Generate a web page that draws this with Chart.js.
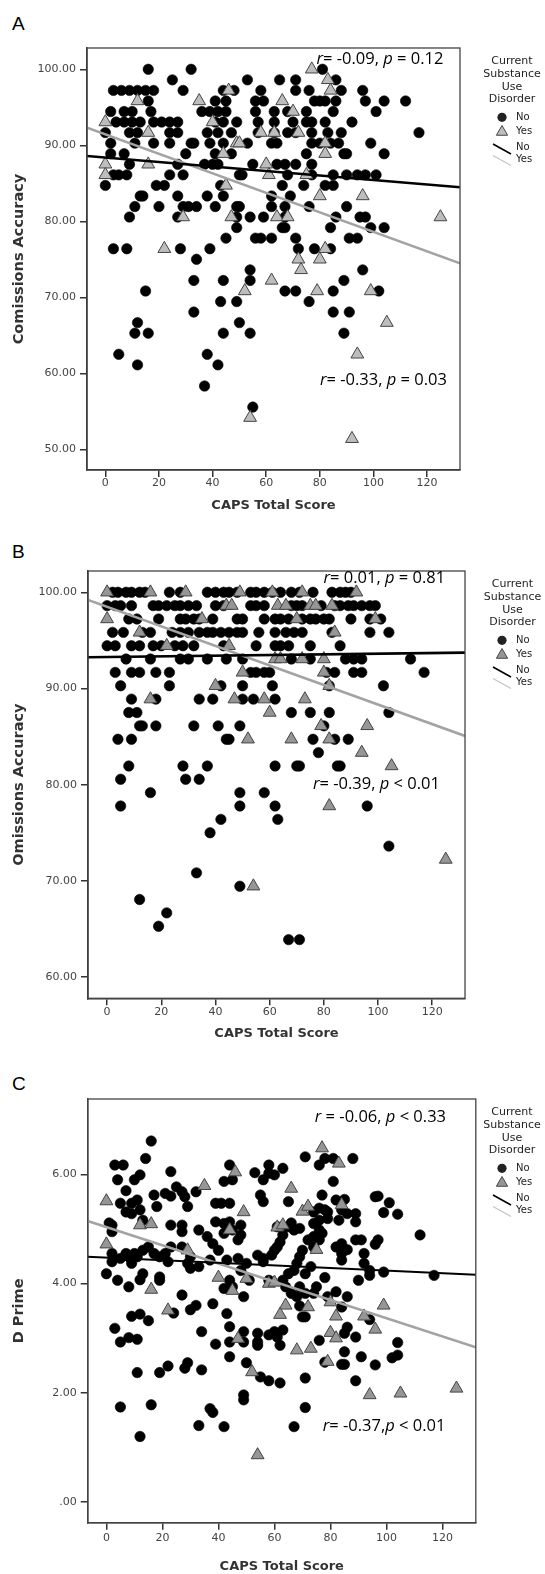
<!DOCTYPE html>
<html>
<head>
<meta charset="utf-8">
<script src="https://cdn.jsdelivr.net/npm/chart.js@4.4.0/dist/chart.umd.min.js"></script>
<style>
body { margin: 0; background: #fff; width: 545px; height: 1574px; position: relative; overflow: hidden; }
canvas { position: absolute; left: 0; }
.tag { position: absolute; left: 12px; font: 19px/19px "Liberation Sans", Arial, sans-serif; color: #000; }
</style>
</head>
<body>
<div class="tag" style="top:14px">A</div>
<div class="tag" style="top:542px">B</div>
<div class="tag" style="top:1074px">C</div>
<canvas id="chartA" width="545" height="525" style="top:0"></canvas>
<canvas id="chartB" width="545" height="520" style="top:525px"></canvas>
<canvas id="chartC" width="545" height="529" style="top:1045px"></canvas>
<script>
const capsTicks = [0, 20, 40, 60, 80, 100, 120];
const commTicks = [50, 60, 70, 80, 90, 100];
const omisTicks = [60, 70, 80, 90, 100];
const dprimeTicks = [0, 2, 4, 6];
const groupLabels = ["No", "Yes"];
const legendTitle = ["Current", "Substance", "Use", "Disorder"];

// A - [CAPS total, commissions accuracy]
const commNo = [
  [16,100],[32,100],[81,100],
  [25,98.61],[53,98.61],[65,98.61],[71,98.61],[86,98.61],
  [3,97.22],[6,97.22],[9,97.22],[12,97.22],[15,97.22],[18,97.22],[29,97.22],[44,97.22],[48,97.22],[58,97.22],[71,97.22],[76,97.22],[88,97.22],[96,97.22],
  [16,95.83],[41,95.83],[45,95.83],[56,95.83],[59,95.83],[78,95.83],[80,95.83],[82,95.83],[86,95.83],[97,95.83],[104,95.83],[112,95.83],
  [2,94.44],[7,94.44],[10,94.44],[17,94.44],[36,94.44],[39,94.44],[42,94.44],[45,94.44],[56,94.44],[63,94.44],[68,94.44],[75,94.44],[85,94.44],[101,94.44],
  [4,93.06],[7,93.06],[10,93.06],[13,93.06],[18,93.06],[21,93.06],[24,93.06],[27,93.06],[41,93.06],[44,93.06],[49,93.06],[57,93.06],[63,93.06],[70,93.06],[75,93.06],[77,93.06],[82,93.06],[92,93.06],
  [0,91.67],[9,91.67],[12,91.67],[24,91.67],[27,91.67],[38,91.67],[42,91.67],[47,91.67],[57,91.67],[63,91.67],[68,91.67],[71,91.67],[77,91.67],[83,91.67],[88,91.67],[117,91.67],
  [2,90.28],[11,90.28],[18,90.28],[24,90.28],[32,90.28],[33,90.28],[39,90.28],[44,90.28],[53,90.28],[62,90.28],[64,90.28],[77,90.28],[80,90.28],[84,90.28],[87,90.28],[99,90.28],
  [2,88.89],[7,88.89],[30,88.89],[41,88.89],[47,88.89],[75,88.89],[89,88.89],[90,88.89],[104,88.89],
  [9,87.5],[27,87.5],[37,87.5],[40,87.5],[42,87.5],[55,87.5],[64,87.5],[67,87.5],[71,87.5],[77,87.5],
  [3,86.11],[5,86.11],[8,86.11],[24,86.11],[29,86.11],[50,86.11],[51,86.11],[68,86.11],[77,86.11],[85,86.11],[90,86.11],[94,86.11],[97,86.11],[101,86.11],
  [0,84.72],[19,84.72],[22,84.72],[43,84.72],[66,84.72],[74,84.72],[82,84.72],[85,84.72],
  [13,83.33],[14,83.33],[27,83.33],[38,83.33],[44,83.33],[62,83.33],[69,83.33],
  [11,81.94],[20,81.94],[29,81.94],[31,81.94],[34,81.94],[41,81.94],[49,81.94],[50,81.94],[62,81.94],[67,81.94],[76,81.94],[90,81.94],
  [9,80.56],[27,80.56],[49,80.56],[54,80.56],[59,80.56],[67,80.56],[86,80.56],[95,80.56],[97,80.56],
  [49,79.17],[66,79.17],[67,79.17],[84,79.17],[99,79.17],[104,79.17],
  [45,77.78],[56,77.78],[58,77.78],[62,77.78],[71,77.78],[91,77.78],[94,77.78],
  [3,76.39],[8,76.39],[28,76.39],[39,76.39],[72,76.39],[78,76.39],[84,76.39],
  [34,75],[54,73.61],[96,73.61],
  [33,72.22],[44,72.22],[54,72.22],[89,72.22],
  [15,70.83],[67,70.83],[71,70.83],[85,70.83],[102,70.83],
  [43,69.44],[49,69.44],[76,69.44],
  [33,68.06],[85,68.06],[91,68.06],
  [12,66.67],[50,66.67],
  [11,65.28],[16,65.28],[44,65.28],[54,65.28],[89,65.28],
  [5,62.5],[38,62.5],[12,61.11],[42,61.11],[37,58.33],[55,55.56]
];
const commYes = [
  [77,100],[83,98.61],[46,97.22],[84,97.22],[12,95.83],[35,95.83],[66,95.83],[70,94.44],
  [0,93.06],[40,93.06],[16,91.67],[58,91.67],[63,91.67],[72,91.67],[49,90.28],[50,90.28],[82,90.28],
  [44,88.89],[82,88.89],[0,87.5],[16,87.5],[60,87.5],[0,86.11],[61,86.11],[75,86.11],[45,84.72],
  [80,83.33],[96,83.33],[29,80.56],[47,80.56],[64,80.56],[68,80.56],[125,80.56],[22,76.39],[82,76.39],
  [72,75],[80,75],[73,73.61],[62,72.22],[52,70.83],[79,70.83],[99,70.83],[105,66.67],[94,62.5],
  [54,54.17],[92,51.39]
];
const commFitNo = [[-6.85, 88.59], [132.3, 84.47]];
const commFitYes = [[-6.85, 92.32], [132.3, 74.47]];

// B - [CAPS total, omissions accuracy]
const omisNo = [
  [2,100],[4,100],[7,100],[9,100],[12,100],[14,100],[23,100],[27,100],[37,100],[40,100],[43,100],[45,100],[48,100],[53,100],[55,100],[58,100],[61,100],[64,100],[68,100],[71,100],[76,100],[83,100],[86,100],[88,100],[90,100],
  [0,98.61],[3,98.61],[5,98.61],[9,98.61],[17,98.61],[19,98.61],[22,98.61],[25,98.61],[27,98.61],[30,98.61],[33,98.61],[40,98.61],[43,98.61],[53,98.61],[55,98.61],[58,98.61],[68,98.61],[70,98.61],[72,98.61],[79,98.61],[84,98.61],[86,98.61],[89,98.61],[91,98.61],[94,98.61],[97,98.61],[99,98.61],
  [8,97.22],[11,97.22],[19,97.22],[27,97.22],[29,97.22],[32,97.22],[34,97.22],[39,97.22],[48,97.22],[50,97.22],[58,97.22],[62,97.22],[64,97.22],[67,97.22],[72,97.22],[75,97.22],[77,97.22],[80,97.22],[82,97.22],[90,97.22],[97,97.22],[101,97.22],
  [2,95.83],[6,95.83],[13,95.83],[16,95.83],[24,95.83],[27,95.83],[30,95.83],[34,95.83],[37,95.83],[39,95.83],[42,95.83],[45,95.83],[48,95.83],[50,95.83],[56,95.83],[62,95.83],[66,95.83],[69,95.83],[72,95.83],[83,95.83],[97,95.83],[104,95.83],
  [0,94.44],[3,94.44],[9,94.44],[12,94.44],[17,94.44],[20,94.44],[25,94.44],[28,94.44],[32,94.44],[43,94.44],[55,94.44],[62,94.44],[64,94.44],[67,94.44],[75,94.44],[86,94.44],
  [7,93.06],[16,93.06],[27,93.06],[30,93.06],[37,93.06],[44,93.06],[50,93.06],[68,93.06],[75,93.06],[88,93.06],[91,93.06],[94,93.06],[112,93.06],
  [3,91.67],[9,91.67],[12,91.67],[18,91.67],[23,91.67],[53,91.67],[55,91.67],[58,91.67],[60,91.67],[81,91.67],[84,91.67],[91,91.67],[94,91.67],[117,91.67],
  [5,90.28],[23,90.28],[42,90.28],[50,90.28],[61,90.28],[82,90.28],[102,90.28],
  [9,88.89],[18,88.89],[34,88.89],[39,88.89],[50,88.89],[54,88.89],[62,88.89],
  [8,87.5],[11,87.5],[68,87.5],[75,87.5],[82,87.5],[104,87.5],
  [12,86.11],[13,86.11],[18,86.11],[32,86.11],[41,86.11],[49,86.11],[80,86.11],
  [4,84.72],[9,84.72],[44,84.72],[45,84.72],[76,84.72],[84,84.72],[89,84.72],
  [78,83.33],
  [8,81.94],[28,81.94],[37,81.94],[62,81.94],[70,81.94],[71,81.94],[85,81.94],[86,81.94],
  [5,80.56],[29,80.56],[34,80.56],
  [16,79.17],[49,79.17],[58,79.17],
  [5,77.78],[49,77.78],[62,77.78],[96,77.78],
  [42,76.39],[63,76.39],[38,75],[104,73.61],[33,70.83],[49,69.44],[12,68.06],[22,66.67],[19,65.28],[67,63.89],[71,63.89]
];
const omisYes = [
  [0,100],[16,100],[29,100],[49,100],[61,100],[72,100],[92,100],
  [44,98.61],[46,98.61],[63,98.61],[66,98.61],[75,98.61],[77,98.61],[83,98.61],
  [0,97.22],[35,97.22],[70,97.22],[99,97.22],[12,95.83],[84,95.83],[22,94.44],[45,94.44],
  [62,93.06],[64,93.06],[72,93.06],[80,93.06],[50,91.67],[80,91.67],[40,90.28],[82,90.28],
  [16,88.89],[47,88.89],[58,88.89],[73,88.89],[60,87.5],[79,86.11],[96,86.11],
  [52,84.72],[68,84.72],[82,84.72],[94,83.33],[105,81.94],[82,77.78],[125,72.22],[54,69.44]
];
const omisFitNo = [[-7.05, 93.24], [132.1, 93.72]];
const omisFitYes = [[-7.05, 99.2], [132.1, 85.06]];

// C - [CAPS total, d prime]
const dprNo = [
  [16,6.61],[14,6.29],[3,6.17],[6,6.17],[4,5.9],[10,5.9],[12,5.99],[7,5.7],[1,5.11],[2,5.07],[2,4.95],[5,5.47],[9,5.47],[11,5.53],[7,5.31],[9,5.28],[12,5.35],[13,5.16],
  [0,4.18],[2,4.55],[2,4.4],[4,4.06],[5,4.46],[7,4.55],[8,4.49],[10,4.55],[11,4.49],[13,4.61],[9,4.37],[8,3.94],[12,4.07],[13,4.18],[15,4.67],
  [17,5.62],[18,5.41],[19,4.12],[17,4.55],[19,4.49],[19,4.06],[21,5.65],[23,6.05],[23,5.6],[25,5.77],[27,5.68],[28,5.59],[29,5.41],[23,5.07],[27,5.07],[27,4.95],
  [23,4.67],[27,4.67],[30,4.49],[29,4.37],[30,4.28],[27,3.79],[21,4.55],[22,4.4],[32,5.68],[33,4.98],[36,4.86],[38,4.73],[37,4.43],[33,4.31],
  [39,5.47],[41,5.47],[42,5.87],[45,5.9],[44,6.17],[44,5.47],[39,5.13],[42,5.1],[44,5.13],[42,4.92],[45,4.98],[48,5.07],[48,4.89],[47,4.8],[40,4.61],[43,4.43],
  [47,4.46],[50,4.37],[48,4.24],[51,4.06],[44,4.06],[42,3.91],[45,3.94],[49,3.76],[53,6.03],[56,5.9],[58,6.02],[58,6.17],[60,5.99],[63,6.11],[55,5.62],[56,5.5],[65,5.5],
  [54,4.52],[56,4.46],[59,4.52],[60,4.61],[61,4.67],[62,4.76],[63,4.89],[61,5.04],[65,5.04],[67,4.98],[69,5.01],[66,5.11],[56,4.4],[58,4.06],[63,4.06],[64,3.94],
  [65,4.18],[67,4.24],[68,4.37],[66,3.82],[68,3.76],[71,6.32],[76,6.17],[78,6.29],[81,5.87],[77,5.62],[76,5.38],[74,5.31],[78,5.35],[79,5.31],[76,5.16],[74,5.1],
  [79,5.19],[76,4.98],[74,4.86],[72,4.8],[76,4.8],[77,4.92],[74,4.67],[70,4.61],[69,4.49],[71,4.18],[73,4.31],[78,4.11],[75,3.94],[74,3.82],[69,3.94],[71,3.82],[79,3.76],
  [88,6.29],[81,6.29],[82,5.53],[85,5.54],[83,5.16],[84,5.35],[86,5.28],[89,5.28],[89,5.13],[82,4.67],[84,4.73],[84,4.55],[84,4.43],[86,4.62],[89,4.8],[91,4.8],
  [90,4.06],[82,3.85],[86,3.76],[92,4.55],[92,4.37],[94,4.24],[94,4.15],[96,4.72],[97,4.8],[96,5.59],[97,5.6],[99,5.3],[101,5.48],[104,5.27],[99,4.21],[112,4.89],[117,4.15],
  [3,3.18],[5,2.93],[8,3.01],[9,3.4],[11,2.98],[12,3.44],[15,3.32],[11,2.37],[19,2.37],[22,2.49],[5,1.74],[16,1.78],[12,1.2],[24,3.46],[30,3.52],[32,3.6],[34,3.12],
  [34,2.42],[38,3.63],[39,2.89],[43,3.45],[44,3.21],[44,2.93],[44,2.66],[28,2.45],[29,2.55],[37,1.71],[38,1.64],[33,1.4],[42,1.38],[49,3.12],[49,2.93],[49,1.96],
  [49,1.87],[50,2.55],[54,3.09],[54,2.93],[54,2.87],[55,2.29],[58,2.22],[58,3.06],[60,3.12],[61,3.02],[63,3.15],[62,2.87],[62,2.18],[69,3.59],[70,3.39],[71,3.39],
  [71,2.27],[71,1.73],[67,1.38],[76,2.96],[78,2.56],[84,3.57],[85,3.09],[86,3.2],[85,2.75],[84,2.52],[85,2.52],[89,3.02],[89,2.22],[91,2.66],[94,3.34],[96,2.51],
  [102,2.64],[104,2.69],[104,2.92]
];
const dprYes = [
  [0,5.51],[0,4.72],[12,5.07],[16,5.09],[16,3.89],[35,5.79],[29,4.61],[46,6.04],[49,5.31],[44,4.98],[40,4.11],[45,3.87],[50,4.09],[66,5.74],[61,5.03],[63,5.07],
  [58,4.0],[60,4.02],[77,6.48],[83,6.2],[70,5.32],[72,5.41],[75,4.62],[84,5.44],[22,3.51],[64,3.6],[62,3.43],[72,3.57],[82,3.4],[99,3.6],[92,3.4],[80,3.1],
  [82,3.0],[96,3.16],[47,2.99],[68,2.78],[73,2.81],[79,2.57],[52,2.38],[94,1.96],[105,1.99],[125,2.08],[54,0.86],[80,3.66]
];
const dprFitNo = [[-6.68, 4.49], [131.9, 4.16]];
const dprFitYes = [[-6.68, 5.145], [131.9, 2.832]];

function pts(list) {
  return list.map(p => ({ x: p[0], y: p[1] }));
}

// text with *italic* parts, left edge + vertical middle
function drawNote(ctx, note) {
  let x = note.x;
  note.text.split("*").forEach((part, i) => {
    ctx.font = (i % 2 ? "italic " : "") + "16.5px 'Open Sans'";
    ctx.fillText(part, x, note.y);
    x += ctx.measureText(part).width;
  });
}

function drawTriangle(ctx, x, y, r) {
  ctx.beginPath();
  ctx.moveTo(x, y - r);
  ctx.lineTo(x + r * 0.866, y + r * 0.5);
  ctx.lineTo(x - r * 0.866, y + r * 0.5);
  ctx.closePath();
  ctx.fill();
  ctx.stroke();
}

const extras = {
  id: "extras",
  afterDraw(chart, args, o) {
    const ctx = chart.ctx;
    const a = chart.chartArea;
    ctx.save();
    ctx.strokeStyle = "#444";
    ctx.lineWidth = 1.3;
    ctx.strokeRect(a.left, a.top, a.right - a.left, a.bottom - a.top);

    ctx.fillStyle = "#000";
    ctx.textAlign = "left";
    ctx.textBaseline = "middle";
    o.notes.forEach(n => drawNote(ctx, n));

    // legend
    const t = a.top;
    ctx.fillStyle = "#222";
    ctx.font = "11px 'DejaVu Sans'";
    ctx.textAlign = "center";
    legendTitle.forEach((s, i) => ctx.fillText(s, o.lx, t + 13.5 + i * 12.6));
    ctx.font = "10px 'DejaVu Sans'";
    ctx.textAlign = "left";
    ctx.fillText(groupLabels[0], 516, t + 69.5);
    ctx.fillText(groupLabels[1], 516, t + 83);
    ctx.fillText(groupLabels[0], 516, t + 99);
    ctx.fillText(groupLabels[1], 516, t + 111.5);
    ctx.beginPath();
    ctx.arc(502, t + 69.3, 4.6, 0, Math.PI * 2);
    ctx.fill();
    ctx.fillStyle = o.triFill;
    ctx.strokeStyle = "#444";
    ctx.lineWidth = 1;
    drawTriangle(ctx, 502, t + 84, 6.5);
    ctx.strokeStyle = "#000";
    ctx.lineWidth = 1.6;
    ctx.beginPath();
    ctx.moveTo(493, t + 96);
    ctx.lineTo(511, t + 106);
    ctx.stroke();
    ctx.strokeStyle = "#c4c4c4";
    ctx.lineWidth = 1.2;
    ctx.beginPath();
    ctx.moveTo(493, t + 107.5);
    ctx.lineTo(511, t + 117.5);
    ctx.stroke();
    ctx.restore();
  }
};

function axisFont(size, bold) {
  return { family: "'DejaVu Sans'", size: size, weight: bold ? "bold" : "normal" };
}

function makePanel(id, s) {
  return new Chart(document.getElementById(id), {
    type: "scatter",
    data: {
      datasets: [
        { type: "line", data: pts(s.fitNo), borderColor: "#000", borderWidth: s.noWidth, pointRadius: 0, fill: false, order: 0 },
        { type: "line", data: pts(s.fitYes), borderColor: "#a3a3a3", borderWidth: 2.6, pointRadius: 0, fill: false, order: 0 },
        { data: pts(s.yes), pointStyle: "triangle", pointRadius: 7.4, backgroundColor: s.triFill, borderColor: "#444", borderWidth: 1, order: 1 },
        { data: pts(s.no), pointStyle: "circle", pointRadius: 5.2, backgroundColor: "#000", borderColor: "#000", borderWidth: 0.6, order: 2 }
      ]
    },
    options: {
      responsive: false,
      animation: false,
      events: [],
      layout: { padding: { top: s.pad[0], right: s.pad[1], bottom: s.pad[2], left: 0 } },
      plugins: {
        legend: { display: false },
        tooltip: { enabled: false },
        extras: { notes: s.notes, lx: s.lx, triFill: s.triFill }
      },
      scales: {
        x: {
          type: "linear",
          min: s.xr[0], max: s.xr[1],
          afterBuildTicks: sc => { sc.ticks = capsTicks.map(v => ({ value: v })); },
          afterFit: sc => { sc.height = s.xh; },
          grid: { drawOnChartArea: false, drawTicks: true, tickLength: 7, color: "#333", lineWidth: 1.5 },
          border: { color: "#333", width: 1.5 },
          ticks: { padding: s.xtp, color: "#444", font: axisFont(11), maxRotation: 0, autoSkip: false, callback: v => String(v) },
          title: { display: true, text: "CAPS Total Score", color: "#333", font: axisFont(13, true), padding: { top: 0, bottom: s.xtb } }
        },
        y: {
          type: "linear",
          min: s.yr[0], max: s.yr[1],
          afterBuildTicks: sc => { sc.ticks = s.yTicks.map(v => ({ value: v })); },
          afterFit: sc => { sc.width = s.yw; },
          grid: { drawOnChartArea: false, drawTicks: true, tickLength: 7, color: "#333", lineWidth: 1.5 },
          border: { color: "#333", width: 1.5 },
          ticks: { padding: 4, color: "#444", font: axisFont(11), autoSkip: false, callback: v => (v === 0 ? ".00" : v.toFixed(2)) },
          title: { display: true, text: s.yTitle, color: "#333", font: axisFont(14.5, true), padding: { top: 10.3, bottom: 0 } }
        }
      }
    },
    plugins: [extras]
  });
}

makePanel("chartA", {
  no: commNo, yes: commYes, fitNo: commFitNo, fitYes: commFitYes,
  yTicks: commTicks, yTitle: "Comissions Accuracy",
  xr: [-6.85, 132.3], yr: [47.28, 102.8],
  pad: [48, 85, 5], yw: 87, xh: 50, xtp: 0, xtb: 6.2,
  noWidth: 2.6, triFill: "#bdbdbd", lx: 512,
  notes: [{ text: "*r*= -0.09, *p* = 0.12", x: 316.5, y: 59.3 }, { text: "*r*= -0.33, *p* = 0.03", x: 320, y: 380.7 }]
});

makePanel("chartB", {
  no: omisNo, yes: omisYes, fitNo: omisFitNo, fitYes: omisFitYes,
  yTicks: omisTicks, yTitle: "Omissions Accuracy",
  xr: [-7.05, 132.1], yr: [57.79, 102.21],
  pad: [46, 80, 0.7], yw: 88, xh: 46, xtp: 0, xtb: 2.5,
  noWidth: 2.6, triFill: "#969696", lx: 512.5,
  notes: [{ text: "*r*= 0.01, *p* = 0.81", x: 323.5, y: 53.3 }, { text: "*r*= -0.39, *p* < 0.01", x: 313, y: 259.3 }]
});

makePanel("chartC", {
  no: dprNo, yes: dprYes, fitNo: dprFitNo, fitYes: dprFitYes,
  yTicks: dprimeTicks, yTitle: "D Prime",
  xr: [-6.68, 131.9], yr: [-0.379, 7.379],
  pad: [54, 69.2, 0], yw: 87.7, xh: 51.3, xtp: 1.4, xtb: 0,
  noWidth: 2.1, triFill: "#969696", lx: 512,
  notes: [{ text: "*r* = -0.06, *p* < 0.33", x: 314.8, y: 72.3 }, { text: "*r*= -0.37,*p* < 0.01", x: 322.8, y: 381 }]
});
</script>
</body>
</html>
